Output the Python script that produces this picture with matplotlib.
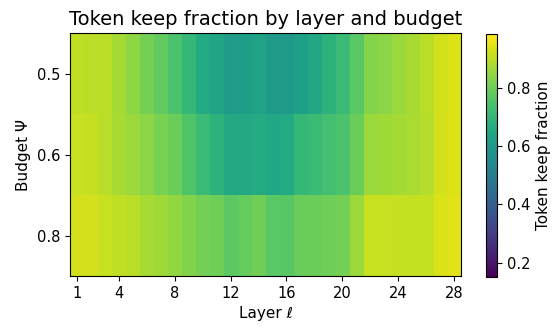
import numpy as np
import matplotlib.pyplot as plt

layers = list(range(1, 29))
budgets = ["0.5", "0.6", "0.8"]
xtick_layers = [1, 4, 8, 12, 16, 20, 24, 28]

keep_05 = [0.905, 0.900, 0.897, 0.872, 0.843, 0.810, 0.785, 0.750, 0.705, 0.660,
           0.638, 0.610, 0.617, 0.630, 0.597, 0.597, 0.620, 0.647, 0.689, 0.718,
           0.772, 0.830, 0.840, 0.860, 0.876, 0.897, 0.927, 0.940]
keep_06 = [0.914, 0.910, 0.897, 0.876, 0.860, 0.840, 0.818, 0.797, 0.755, 0.720,
           0.690, 0.655, 0.655, 0.665, 0.647, 0.660, 0.705, 0.720, 0.735, 0.747,
           0.797, 0.860, 0.865, 0.872, 0.879, 0.893, 0.930, 0.942]
keep_08 = [0.927, 0.927, 0.914, 0.906, 0.897, 0.876, 0.865, 0.850, 0.826, 0.810,
           0.800, 0.776, 0.789, 0.805, 0.772, 0.768, 0.793, 0.797, 0.800, 0.810,
           0.860, 0.914, 0.914, 0.910, 0.910, 0.910, 0.940, 0.948]

data = np.array([keep_05, keep_06, keep_08])

fig = plt.figure(figsize=(5.57, 3.28), dpi=100)
ax = fig.add_axes([0.1257, 0.1585, 0.702, 0.7405])
cax = fig.add_axes([0.8725, 0.155, 0.0197, 0.741])

im = ax.imshow(data, cmap="viridis", aspect="auto", vmin=0.15, vmax=0.985)
ax.set_xticks([l - 1 for l in xtick_layers])
ax.set_xticklabels([str(l) for l in xtick_layers])
ax.set_yticks(range(len(budgets)))
ax.set_yticklabels(budgets)
ax.tick_params(labelsize=10.5)
ax.set_xlabel("Layer ℓ", fontsize=11)
ax.set_ylabel("Budget Ψ", fontsize=11)
ax.set_title("Token keep fraction by layer and budget", fontsize=14)

cb = fig.colorbar(im, cax=cax)
cb.set_label("Token keep fraction", fontsize=11)
cb.set_ticks([0.2, 0.4, 0.6, 0.8])
cb.ax.tick_params(labelsize=10.5)

fig.savefig("out.png", dpi=100)
